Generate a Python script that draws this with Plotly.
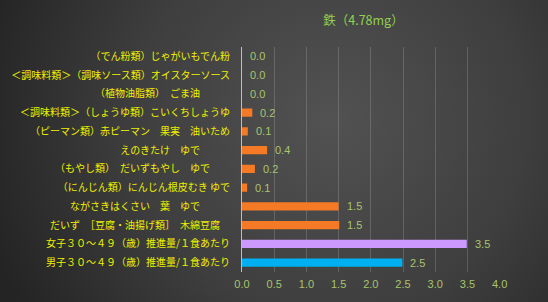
import base64
import plotly.graph_objects as go

categories = [
    "（でん粉類）じゃがいもでん粉",
    "＜調味料類＞（調味ソース類）オイスターソース",
    "（植物油脂類）　ごま油　　　",
    "＜調味料類＞（しょうゆ類）こいくちしょうゆ",
    "（ピーマン類）赤ピーマン　果実　油いため",
    "えのきたけ　ゆで　　　",
    "（もやし類）　だいずもやし　ゆで　　",
    "（にんじん類）にんじん根皮むき ゆで",
    "ながさきはくさい　葉　ゆで　　　",
    "だいず　［豆腐・油揚げ類］　木綿豆腐　",
    "女子３０～４９（歳）推進量/１食あたり",
    "男子３０～４９（歳）推進量/１食あたり",
]
values = [0.0, 0.0, 0.0, 0.16, 0.09, 0.39, 0.2, 0.08, 1.5, 1.51, 3.49, 2.49]
bar_colors = ["#F47A26"] * 10 + ["#CC99FF", "#00B0F0"]
x_ticks = [0.0, 0.5, 1.0, 1.5, 2.0, 2.5, 3.0, 3.5, 4.0]
title_text = "鉄（4.78mg）"

W, H = 548, 302
L, R, T, B = 242, 48, 47, 30
pw, ph = W - L - R, H - T - B

svg = f'''<svg xmlns="http://www.w3.org/2000/svg" width="{W}" height="{H}" viewBox="0 0 {W} {H}">
<defs><radialGradient id="g" cx="330" cy="120" r="360" gradientUnits="userSpaceOnUse">
<stop offset="0" stop-color="#525252"/><stop offset="0.55" stop-color="#3e3e3e"/><stop offset="1" stop-color="#242424"/>
</radialGradient></defs><rect width="{W}" height="{H}" fill="url(#g)"/></svg>'''
bg_uri = "data:image/svg+xml;base64," + base64.b64encode(svg.encode()).decode()

fig = go.Figure()
fig.add_trace(go.Bar(
    x=values, y=categories, orientation="h",
    marker=dict(color=bar_colors, line=dict(width=0)),
    hoverinfo="skip",
))

for c, v in zip(categories, values):
    fig.add_annotation(
        x=v, y=c, xref="x", yref="y", text=f"{v:.1f}", showarrow=False,
        xanchor="left", xshift=6,
        font=dict(family="Liberation Sans, Arial", size=11, color="#A9C46C"),
    )

fig.update_layout(
    width=W, height=H,
    margin=dict(l=L, r=R, t=T, b=B, autoexpand=False),
    paper_bgcolor="#333333",
    plot_bgcolor="rgba(0,0,0,0)",
    bargap=0.56,
    showlegend=False,
    title=dict(text=title_text, x=258 / W, xanchor="center", xref="paper",
               y=1 - 21 / H, yanchor="middle", automargin=False,
               font=dict(family="Noto Sans CJK JP", size=12.5, color="#92D050")),
    images=[dict(source=bg_uri, xref="paper", yref="paper",
                 x=-L / pw, y=1 + T / ph, sizex=W / pw, sizey=H / ph,
                 xanchor="left", yanchor="top", sizing="stretch", layer="below")],
    xaxis=dict(range=[0, 4.006], tickvals=x_ticks, tickformat=".1f", automargin=False,
               showgrid=True, gridcolor="rgba(255,255,255,0.16)", gridwidth=1,
               zeroline=False, showline=False, ticks="", ticklabelstandoff=4,
               tickfont=dict(family="Liberation Sans, Arial", size=11, color="#A9C46C")),
    yaxis=dict(autorange="reversed", showgrid=False, zeroline=False, automargin=False,
               showline=True, linecolor="#BFBFBF", linewidth=1, ticks="",
               ticklabelstandoff=9,
               tickfont=dict(family="Noto Sans CJK JP", size=10, color="#F0F000")),
)

fig.write_html("out.html")
